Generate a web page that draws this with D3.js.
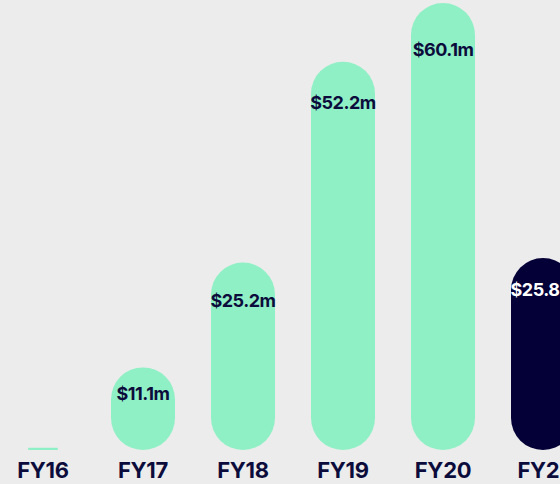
<!DOCTYPE html>
<html>
<head>
<meta charset="utf-8">
<script src="https://cdn.jsdelivr.net/npm/d3@7"></script>
<style>
html,body{margin:0;padding:0;background:#ececec;}
svg{display:block;}
</style>
</head>
<body>
<svg id="chart" width="560" height="484"></svg>
<script>
const categories = ["FY16","FY17","FY18","FY19","FY20","FY21"];
const values = [0.3, 11.1, 25.2, 52.2, 60.1, 25.8];
const labels = ["", "$11.1m", "$25.2m", "$52.2m", "$60.1m", "$25.8m"];
const highlight = [false,false,false,false,false,true];
const labelDy = [0, 33, 44, 47, 53, 38];

const W = 560, H = 484;
const svg = d3.select("#chart");
svg.append("rect").attr("width",W).attr("height",H).attr("fill","#ececec");

const x = d3.scaleBand().domain(categories).range([-7, 593]).paddingInner(0.36).paddingOuter(0.18);
const y = d3.scaleLinear().domain([0, 60.5]).range([450, 0]);

const mint = "#90f0c5", navy = "#040037", ink = "#0c0c3c";
const data = categories.map((c,i)=>({c, v:values[i], l:labels[i], h:highlight[i], dy:labelDy[i]}));
const bw = x.bandwidth();
const barW = d => (y(0)-y(d.v)) < 10 ? bw*0.47 : bw;

svg.selectAll("rect.bar").data(data).join("rect")
  .attr("class","bar")
  .attr("x", d=>x(d.c)+(bw-barW(d))/2)
  .attr("y", d=>y(d.v))
  .attr("width", d=>barW(d))
  .attr("height", d=>y(0)-y(d.v))
  .attr("rx", d=>Math.min(bw/2,(y(0)-y(d.v))/2))
  .attr("ry", d=>Math.min(bw/2,(y(0)-y(d.v))/2))
  .attr("fill", d=>d.h?navy:mint);

svg.selectAll("text.val").data(data.filter(d=>d.l)).join("text")
  .attr("class","val")
  .attr("x", d=>x(d.c)+bw/2)
  .attr("y", d=>y(d.v)+d.dy)
  .attr("text-anchor","middle")
  .attr("font-family","Inter, sans-serif")
  .attr("font-weight",700)
  .attr("font-size",18)
  .attr("letter-spacing","-0.5")
  .attr("fill", d=>d.h?"#ffffff":ink)
  .text(d=>d.l);

const axis = d3.axisBottom(x).tickSize(0).tickPadding(0);
const g = svg.append("g").attr("transform","translate(0,462)").call(axis);
g.select(".domain").remove();
g.selectAll("text")
  .attr("dy","0.71em")
  .attr("font-family","Inter, sans-serif")
  .attr("font-weight",700)
  .attr("font-size",22)
  .attr("letter-spacing","-0.3")
  .attr("fill",ink);
</script>
</body>
</html>
